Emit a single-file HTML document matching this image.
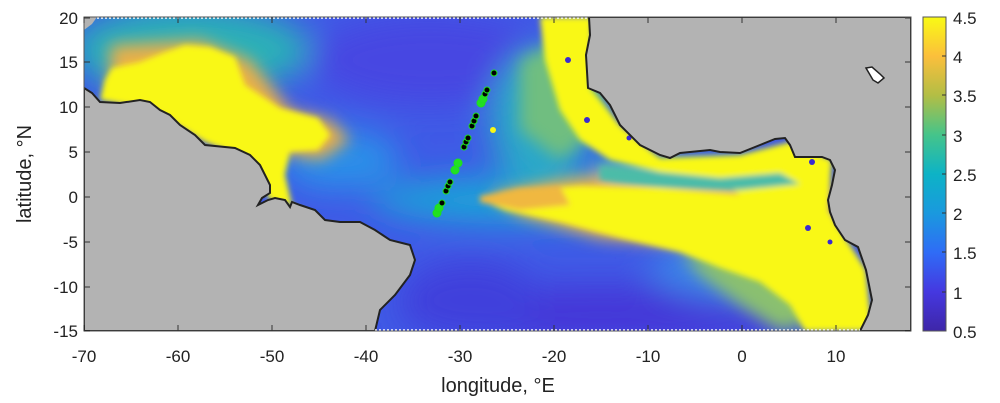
<!DOCTYPE html>
<html><head><meta charset="utf-8"><style>
body{margin:0;background:#fff;}
svg{display:block;font-family:"Liberation Sans",sans-serif;}
</style></head><body>
<svg width="1000" height="403" viewBox="0 0 1000 403" xmlns="http://www.w3.org/2000/svg">
<defs>
<clipPath id="plot"><rect x="84" y="17" width="827" height="314"/></clipPath>
<filter id="b8" x="-20%" y="-20%" width="140%" height="140%"><feGaussianBlur stdDeviation="8"/></filter>
<filter id="b4" x="-20%" y="-20%" width="140%" height="140%"><feGaussianBlur stdDeviation="3"/></filter>
<filter id="b16" x="-30%" y="-30%" width="160%" height="160%"><feGaussianBlur stdDeviation="16"/></filter>
<linearGradient id="cb" x1="0" y1="1" x2="0" y2="0">
<stop offset="0" stop-color="#3e26a8"/><stop offset="0.125" stop-color="#4538e0"/>
<stop offset="0.25" stop-color="#2f6cf6"/><stop offset="0.375" stop-color="#1a99de"/>
<stop offset="0.5" stop-color="#0db3c6"/><stop offset="0.625" stop-color="#45c48a"/>
<stop offset="0.75" stop-color="#b2be45"/><stop offset="0.875" stop-color="#fbbf3c"/>
<stop offset="1" stop-color="#f9fa14"/></linearGradient>
</defs>
<g clip-path="url(#plot)">
<rect x="84" y="17" width="827" height="314" fill="#3f5ae6"/>
<g filter="url(#b16)">
<ellipse cx="430" cy="60" rx="120" ry="45" fill="#4646e2"/>
<ellipse cx="600" cy="315" rx="200" ry="30" fill="#4438d8"/>
<ellipse cx="470" cy="300" rx="70" ry="40" fill="#4040dc"/>
<ellipse cx="190" cy="50" rx="120" ry="45" fill="#2cb0b8"/>
<ellipse cx="340" cy="160" rx="60" ry="30" fill="#2a90e8"/>
<ellipse cx="520" cy="200" rx="150" ry="24" fill="#1fa2d8"/>
<ellipse cx="540" cy="120" rx="50" ry="70" fill="#2aa8c8"/>
<ellipse cx="740" cy="270" rx="90" ry="30" fill="#3a85e8"/>
</g>
<g filter="url(#b8)">
<polygon points="490,195 560,180 640,170 720,162 800,162 830,190 830,240 760,245 680,245 600,238 520,215" fill="#f0b448"/>
<polygon points="590,160 700,162 800,160 820,182 700,188 610,182" fill="#3cb8b0"/>
<polygon points="560,40 590,60 610,120 560,160 520,130 520,60" fill="#70be80"/>
<polygon points="110,45 200,40 250,60 290,110 330,120 350,140 320,160 270,150 200,130 110,95" fill="#e8b048"/>
<polygon points="680,250 760,265 800,290 820,320 780,331 740,305 700,275" fill="#8ac070"/>
</g>
<g filter="url(#b4)">
<polygon points="105,80 112,68 140,62 165,52 185,45 210,47 235,57 245,85 280,108 318,118 330,135 318,150 290,152 285,175 292,205 310,212 270,200 250,160 205,142 150,108 100,100" fill="#f9f816"/>
<polygon points="540,17 592,17 590,88 620,125 660,158 740,155 790,142 832,160 828,210 866,270 872,331 805,331 790,305 760,282 720,268 680,252 620,238 560,222 505,210 480,200 520,190 580,186 660,188 740,195 720,180 660,172 610,160 580,140 560,110 545,60" fill="#f9f816"/>
<polygon points="600,166 660,172 720,178 780,173 800,184 740,190 660,187 600,180" fill="#4cbca8"/>
<polygon points="480,196 520,188 560,186 570,205 520,210 480,202" fill="#f0b840"/>
</g>
<g fill="#3a2ad0"><circle cx="568" cy="60" r="3"/><circle cx="587" cy="120" r="3"/><circle cx="629" cy="138" r="2.5"/><circle cx="808" cy="228" r="3"/><circle cx="830" cy="242" r="2.5"/><circle cx="812" cy="162" r="3"/></g>
<polygon points="84,17 97,17 92,24 84,30" fill="#b3b3b3"/>
<polygon points="84,88 92,93 100,102 120,103 140,100 150,102 160,110 170,115 180,125 195,135 205,145 235,148 250,155 260,165 265,175 270,185 270,193 262,198 258,205 268,200 275,198 285,200 290,207 292,202 300,205 315,210 325,220 340,222 360,222 375,230 390,240 410,245 415,260 410,275 395,295 380,310 375,331 84,331" fill="#b3b3b3" stroke="#222" stroke-width="2"/>
<polygon points="589,17 590,35 586,55 588,88 600,93 610,105 620,125 640,145 660,155 670,158 680,153 710,150 720,152 740,153 760,145 775,139 785,138 790,145 795,157 822,157 830,160 835,170 832,185 828,200 830,212 835,225 845,240 858,247 866,270 872,300 868,315 860,331 911,331 911,17" fill="#b3b3b3" stroke="#222" stroke-width="2"/>
<polygon points="866,68 872,67 880,74 884,78 878,83 873,80" fill="#fff" stroke="#222" stroke-width="1.5"/>
<g stroke="#1ee01e" stroke-width="1">
<circle cx="437" cy="213" r="4" fill="#22e022"/><circle cx="439" cy="208" r="4" fill="#22e022"/><circle cx="442" cy="203" r="3" fill="#000"/>
<circle cx="446" cy="191" r="3" fill="#000"/><circle cx="448" cy="186" r="3" fill="#000"/><circle cx="450" cy="182" r="3" fill="#000"/>
<circle cx="455" cy="170" r="4" fill="#22e022"/><circle cx="458" cy="163" r="4" fill="#22e022"/>
<circle cx="464" cy="147" r="3" fill="#000"/><circle cx="466" cy="142" r="3" fill="#000"/><circle cx="468" cy="138" r="3" fill="#000"/>
<circle cx="472" cy="126" r="3" fill="#000"/><circle cx="474" cy="121" r="3" fill="#000"/><circle cx="476" cy="116" r="3" fill="#000"/>
<circle cx="481" cy="103" r="4" fill="#22e022"/><circle cx="483" cy="99" r="4" fill="#22e022"/><circle cx="485" cy="94" r="3" fill="#000"/><circle cx="487" cy="90" r="3" fill="#000"/>
<circle cx="494" cy="73" r="3" fill="#000"/></g>
<circle cx="493" cy="130" r="3" fill="#f9f816"/>
<line x1="97" y1="18" x2="589" y2="18" stroke="#fff" stroke-width="1.5" stroke-dasharray="2,2"/>
<line x1="375" y1="330" x2="860" y2="330" stroke="#fff" stroke-width="1.5" stroke-dasharray="2,2"/>
</g>
<rect x="84" y="17" width="827" height="314" fill="none" stroke="#555" stroke-width="1"/>
<g stroke="#333" stroke-width="1">
<path d="M84,331v-6M178,331v-6M272,331v-6M366,331v-6M460,331v-6M554,331v-6M648,331v-6M742,331v-6M836,331v-6"/>
<path d="M84,17v6M178,17v6M272,17v6M366,17v6M460,17v6M554,17v6M648,17v6M742,17v6M836,17v6"/>
<path d="M84,18h6M84,62h6M84,107h6M84,152h6M84,197h6M84,242h6M84,287h6M84,331h6"/>
<path d="M911,18h-6M911,62h-6M911,107h-6M911,152h-6M911,197h-6M911,242h-6M911,287h-6M911,331h-6"/>
</g>
<g font-size="17" fill="#222" text-anchor="end">
<text x="78" y="24">20</text><text x="78" y="68">15</text><text x="78" y="113">10</text><text x="78" y="158">5</text><text x="78" y="203">0</text><text x="78" y="248">-5</text><text x="78" y="293">-10</text><text x="78" y="337">-15</text>
</g>
<g font-size="17" fill="#222" text-anchor="middle">
<text x="84" y="362">-70</text><text x="178" y="362">-60</text><text x="272" y="362">-50</text><text x="366" y="362">-40</text><text x="460" y="362">-30</text><text x="554" y="362">-20</text><text x="648" y="362">-10</text><text x="742" y="362">0</text><text x="836" y="362">10</text>
</g>
<text x="498" y="392" font-size="20" fill="#222" text-anchor="middle">longitude, °E</text>
<text transform="translate(31,174) rotate(-90)" font-size="20" fill="#222" text-anchor="middle">latitude, °N</text>
<rect x="923" y="17" width="23" height="314" fill="url(#cb)" stroke="#555" stroke-width="1"/>
<g stroke="#333"><path d="M946,56h-4M946,95h-4M946,135h-4M946,174h-4M946,213h-4M946,252h-4M946,292h-4"/></g>
<g font-size="17" fill="#222">
<text x="953" y="24">4.5</text><text x="953" y="63">4</text><text x="953" y="102">3.5</text><text x="953" y="142">3</text><text x="953" y="181">2.5</text><text x="953" y="220">2</text><text x="953" y="259">1.5</text><text x="953" y="299">1</text><text x="953" y="338">0.5</text>
</g>
</svg>
</body></html>
